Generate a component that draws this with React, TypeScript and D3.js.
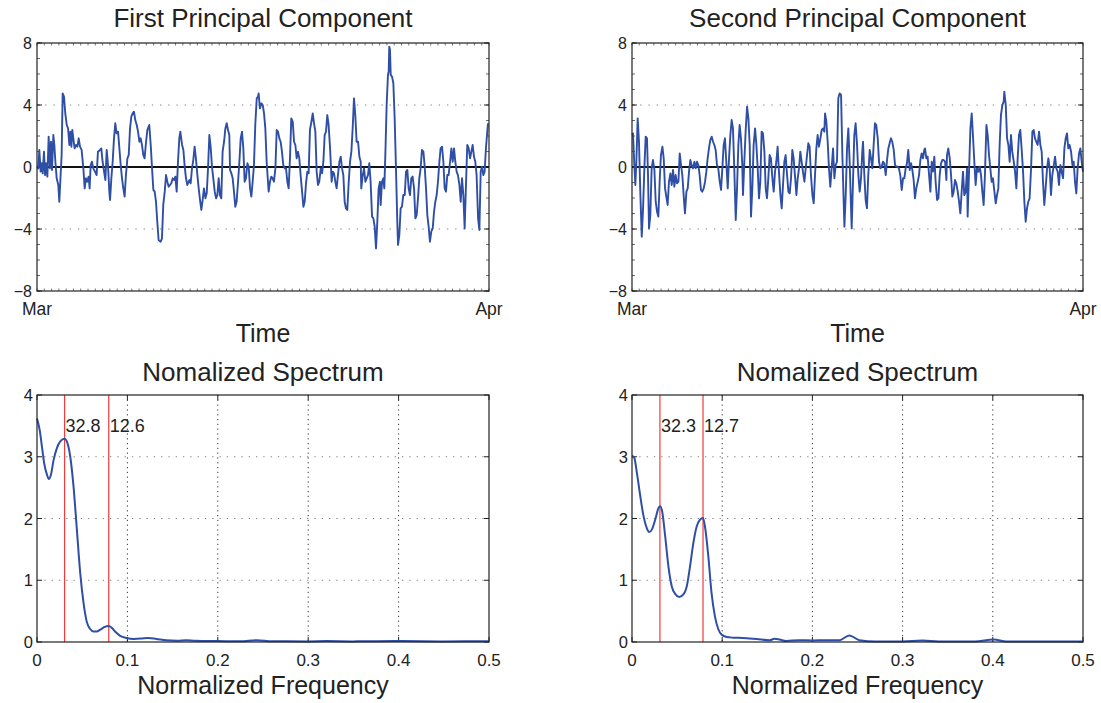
import React from "react";
import * as d3 from "d3";

type P = [number, number];

// First principal component: [day of March (0..31), value]
const pc1: P[] = [
  [0.02,0.02],[0.09,-0.09],[0.16,1.10],[0.25,-0.30],[0.32,0.24],[0.39,-0.41],[0.48,0.99],[0.55,-0.52],[0.62,0.24],[0.71,-0.62],[0.80,1.96],[0.89,-0.09],[0.96,1.63],[1.03,-0.19],[1.12,2.06],[1.19,1.42],[1.26,0.34],[1.35,-0.73],[1.46,-1.16],[1.53,-2.24],[1.62,-0.52],[1.69,0.77],[1.76,4.75],[1.85,4.54],[1.94,3.46],[2.04,2.71],[2.13,2.49],[2.22,1.42],[2.29,2.28],[2.36,1.31],[2.42,2.39],[2.52,1.63],[2.58,1.20],[2.68,1.42],[2.77,1.31],[2.86,1.85],[2.95,1.31],[3.06,1.10],[3.18,-0.09],[3.27,-1.38],[3.36,-0.73],[3.45,-0.95],[3.54,-0.62],[3.61,-1.38],[3.68,0.13],[3.77,0.34],[3.86,-0.09],[3.98,-0.30],[4.09,-0.52],[4.18,0.99],[4.32,1.10],[4.41,1.20],[4.50,0.34],[4.60,-0.30],[4.69,-0.84],[4.78,1.10],[4.87,0.13],[4.96,-1.59],[5.01,-2.13],[5.10,-0.73],[5.19,0.34],[5.28,1.85],[5.37,2.82],[5.46,2.17],[5.56,2.28],[5.65,1.20],[5.74,0.13],[5.83,-0.73],[5.92,-1.38],[6.01,-1.91],[6.10,-0.52],[6.20,0.56],[6.29,0.77],[6.38,2.49],[6.47,3.25],[6.56,3.46],[6.65,3.57],[6.74,3.03],[6.84,2.71],[6.93,2.28],[7.02,1.63],[7.11,1.85],[7.20,1.42],[7.29,0.77],[7.38,0.56],[7.48,1.63],[7.57,2.39],[7.70,2.71],[7.80,1.42],[7.89,-0.09],[7.98,-1.48],[8.07,-1.59],[8.16,-2.24],[8.25,-3.53],[8.34,-4.71],[8.48,-4.82],[8.57,-4.60],[8.66,-2.45],[8.76,-1.59],[8.85,-0.52],[8.94,-0.95],[9.03,-1.27],[9.12,-1.16],[9.21,-1.05],[9.31,-0.73],[9.40,-0.84],[9.49,-0.62],[9.58,-1.59],[9.67,0.34],[9.76,1.85],[9.83,2.28],[9.95,1.42],[10.04,1.10],[10.13,0.02],[10.22,-0.73],[10.31,-1.16],[10.45,-0.84],
  [10.54,-1.05],[10.63,-0.09],[10.72,0.45],[10.81,1.31],[10.91,0.45],[11.00,-0.52],[11.09,-1.38],[11.18,-2.13],[11.27,-2.77],[11.36,-2.13],[11.45,-1.38],[11.55,-2.02],[11.64,-1.70],[11.73,-0.09],[11.82,2.06],[11.91,1.31],[12.00,0.02],[12.09,-0.73],[12.19,-1.59],[12.28,-2.02],[12.37,-1.81],[12.46,-0.73],[12.55,-1.81],[12.64,-2.02],[12.73,0.99],[12.83,1.63],[12.92,2.49],[13.01,2.82],[13.10,2.39],[13.19,2.06],[13.24,-0.19],[13.33,-0.41],[13.42,-0.73],[13.51,-1.59],[13.60,-2.56],[13.69,-2.24],[13.79,-0.95],[13.88,0.34],[13.97,1.85],[14.06,2.28],[14.15,1.20],[14.24,-0.95],[14.33,-0.73],[14.43,0.24],[14.52,0.02],[14.61,-1.38],[14.70,-1.91],[14.79,-0.95],[14.88,0.13],[14.97,2.71],[15.07,4.43],[15.16,4.54],[15.20,4.75],[15.29,3.78],[15.39,4.11],[15.48,4.00],[15.57,3.46],[15.66,2.49],[15.75,0.34],[15.84,-0.95],[15.89,-1.59],[15.98,-0.95],[16.07,-0.62],[16.16,-0.73],[16.25,-0.95],[16.35,-0.09],[16.44,2.39],[16.53,2.28],[16.62,1.85],[16.71,1.63],[16.80,0.99],[16.89,0.13],[16.99,-0.09],[17.08,-0.09],[17.17,-0.95],[17.26,-1.38],[17.35,0.56],[17.44,3.14],[17.54,2.92],[17.63,1.63],[17.72,1.42],[17.81,0.56],[17.90,0.99],[17.99,0.56],[18.08,-0.52],[18.18,-1.59],[18.27,-2.56],[18.36,-2.24],[18.45,-1.05],[18.54,-0.30],[18.63,-0.41],[18.72,2.39],[18.82,2.92],[18.91,3.46],[19.00,2.82],[19.09,2.28],[19.18,-0.30],[19.27,-1.16],[19.36,-0.95],[19.46,-0.09],[19.55,-0.41],[19.64,0.34],[19.73,2.06],[19.82,2.28],[19.91,3.35],[20.00,2.71],[20.10,1.20],
  [20.21,-0.95],[20.28,-0.30],[20.37,-0.41],[20.46,-0.95],[20.55,-1.38],[20.64,-0.52],[20.74,0.34],[20.83,0.67],[20.92,-0.09],[21.01,-0.52],[21.10,-2.24],[21.19,-2.67],[21.28,-2.77],[21.38,-0.95],[21.47,0.34],[21.56,0.99],[21.65,2.49],[21.74,4.43],[21.83,3.35],[21.92,1.63],[22.02,1.63],[22.11,0.67],[22.20,0.34],[22.24,-1.38],[22.34,-0.52],[22.43,-0.09],[22.52,-0.95],[22.61,-0.73],[22.70,-0.52],[22.79,0.24],[22.88,-0.95],[22.98,-3.20],[23.07,-3.31],[23.16,-3.85],[23.25,-5.25],[23.34,-3.53],[23.43,-1.38],[23.52,-0.95],[23.57,-2.45],[23.66,-0.95],[23.75,-0.73],[23.82,-1.38],[23.89,0.77],[23.98,4.00],[24.07,5.94],[24.12,6.15],[24.16,7.76],[24.21,7.55],[24.26,5.94],[24.35,5.83],[24.44,5.40],[24.53,3.14],[24.62,-0.09],[24.71,-3.53],[24.76,-5.03],[24.85,-4.39],[24.94,-2.67],[25.03,-2.56],[25.12,-1.81],[25.22,-1.81],[25.31,-0.30],[25.40,-0.19],[25.49,-1.38],[25.58,-1.81],[25.67,-0.73],[25.76,-0.62],[25.86,-1.38],[25.95,-3.31],[26.04,-3.10],[26.13,-2.02],[26.22,-0.73],[26.31,-0.09],[26.40,1.10],[26.50,0.99],[26.59,0.02],[26.68,-1.38],[26.77,-3.10],[26.86,-3.85],[26.95,-4.82],[27.04,-4.17],[27.14,-3.96],[27.23,-2.88],[27.32,-2.24],[27.41,-1.81],[27.50,-0.95],[27.59,0.24],[27.68,1.20],[27.78,1.31],[27.87,0.34],[27.96,-1.38],[28.05,-1.59],[28.14,-0.52],[28.23,-0.52],[28.33,0.34],[28.42,1.20],[28.51,0.34],[28.60,1.20],[28.69,0.34],[28.78,-0.30],[28.87,-0.52],[28.97,-1.16],[29.06,-2.24],[29.15,-0.73],[29.24,-1.81],[29.33,-3.96],[29.42,-1.16],[29.51,1.42],[29.61,1.20],[29.70,0.56],[29.79,0.99],[29.88,1.42],[29.97,0.67],[30.06,0.34],[30.15,-0.52],[30.25,-3.31],[30.34,-4.06],[30.43,-0.30],[30.52,0.02],[30.61,-0.52],[30.70,-0.30],[30.79,1.20],[30.89,2.39],[30.93,2.82],
];

// Second principal component: [day of March (0..31), value]
const pc2: P[] = [
  [0.02,2.06],[0.07,2.17],[0.16,0.13],[0.23,-1.16],[0.30,0.34],[0.39,3.14],[0.48,1.63],[0.57,-1.59],[0.67,-4.49],[0.76,-2.67],[0.85,-0.09],[0.94,1.96],[1.03,1.85],[1.10,-0.52],[1.17,-3.96],[1.26,-3.10],[1.35,-0.09],[1.44,0.45],[1.54,-0.19],[1.63,-2.24],[1.72,-2.88],[1.81,-3.20],[1.90,-0.95],[1.99,0.77],[2.09,1.31],[2.18,0.56],[2.27,-1.38],[2.36,-1.91],[2.45,-2.45],[2.54,-0.95],[2.64,-0.41],[2.73,-1.16],[2.82,-0.19],[2.91,-1.27],[3.00,-0.52],[3.09,-1.05],[3.19,-0.95],[3.28,0.88],[3.37,0.13],[3.46,-0.52],[3.55,-1.81],[3.64,-2.99],[3.74,-1.59],[3.83,-1.38],[3.92,-0.30],[4.01,0.45],[4.10,0.13],[4.19,-0.09],[4.29,0.34],[4.38,-0.09],[4.47,0.34],[4.56,0.13],[4.65,-0.52],[4.74,-1.48],[4.83,-1.59],[4.93,-1.38],[5.02,-0.95],[5.11,-0.30],[5.20,0.56],[5.29,1.20],[5.38,1.74],[5.48,1.96],[5.57,1.63],[5.66,1.42],[5.75,1.10],[5.84,0.13],[5.93,-0.09],[6.03,-0.95],[6.12,-1.48],[6.21,-0.09],[6.30,1.42],[6.39,1.85],[6.48,0.34],[6.58,-1.38],[6.67,0.56],[6.76,2.06],[6.85,3.03],[6.94,2.49],[7.03,-0.09],[7.13,-3.42],[7.22,-1.38],[7.31,1.42],[7.40,2.71],[7.49,1.85],[7.58,0.13],[7.63,-1.81],[7.72,0.34],[7.81,2.28],[7.91,3.89],[8.00,3.14],[8.09,1.42],[8.18,-3.20],[8.27,-1.38],[8.36,1.42],[8.46,2.49],[8.55,1.42],[8.64,-0.09],[8.73,-2.02],[8.82,-0.95],[8.91,2.28],[9.00,2.17],[9.10,0.99],[9.19,-1.38],[9.28,-2.02],[9.37,-0.73],[9.46,0.77],[9.55,0.56],[9.65,-0.73],[9.74,-1.59],
  [9.83,-0.30],[9.92,0.34],[10.01,1.31],[10.10,-0.30],[10.20,-1.81],[10.29,-2.67],[10.38,-1.16],[10.47,0.34],[10.56,0.77],[10.65,-0.41],[10.75,-1.59],[10.84,-1.70],[10.93,-0.73],[11.02,1.10],[11.11,0.56],[11.20,-0.52],[11.30,-1.81],[11.39,-0.73],[11.48,-0.09],[11.57,0.99],[11.66,0.34],[11.75,-0.30],[11.85,-0.95],[11.94,-0.09],[12.03,0.77],[12.12,1.53],[12.21,1.31],[12.30,-0.52],[12.40,-1.81],[12.49,-2.34],[12.58,-0.52],[12.67,1.20],[12.76,2.06],[12.85,1.31],[12.95,1.85],[13.04,2.39],[13.13,2.49],[13.22,2.28],[13.27,3.46],[13.36,2.92],[13.45,1.63],[13.54,-0.09],[13.63,-1.27],[13.72,-0.09],[13.82,1.20],[13.91,-0.73],[14.00,0.13],[14.09,0.34],[14.18,4.43],[14.27,4.75],[14.37,4.65],[14.46,0.77],[14.55,-2.24],[14.60,-3.85],[14.69,-1.81],[14.78,1.20],[14.87,2.49],[14.96,0.34],[15.05,-2.45],[15.10,-3.96],[15.19,-0.95],[15.28,2.06],[15.37,2.82],[15.47,1.42],[15.56,-0.52],[15.65,-1.59],[15.74,-0.73],[15.83,0.99],[15.88,1.63],[15.97,-0.52],[16.06,-2.13],[16.15,-2.67],[16.24,-0.52],[16.34,1.10],[16.43,0.56],[16.52,-0.09],[16.61,1.42],[16.70,2.82],[16.79,2.71],[16.89,1.85],[16.98,0.34],[17.07,-0.09],[17.16,0.02],[17.25,0.34],[17.34,0.24],[17.44,-0.52],[17.53,0.45],[17.62,1.20],[17.71,1.53],[17.80,1.85],[17.89,1.63],[17.99,1.10],[18.08,0.13],[18.17,0.02],[18.26,0.02],[18.35,-0.09],[18.44,-0.52],[18.54,-1.48],[18.63,-0.73],[18.72,-0.73],[18.81,-0.09],[18.90,0.24],[18.99,1.10],[19.09,-0.19],[19.18,0.24],[19.27,-0.19],[19.36,-0.84],[19.45,-2.02],[19.54,-1.38],[19.64,-0.95],[19.73,-0.52],[19.82,0.45],[19.91,0.88],[20.00,0.56],[20.09,1.10],
  [20.14,1.20],[20.23,0.56],[20.32,0.67],[20.42,-0.52],[20.51,-1.59],[20.60,0.34],[20.69,-0.30],[20.78,0.67],[20.87,-0.95],[20.97,-2.13],[21.06,-2.02],[21.15,-0.52],[21.24,0.24],[21.33,0.45],[21.42,0.45],[21.52,0.34],[21.61,-0.84],[21.65,0.77],[21.74,1.20],[21.84,0.56],[21.93,-0.52],[22.02,-1.91],[22.11,-1.59],[22.20,-0.84],[22.29,-1.05],[22.39,-1.59],[22.48,-2.24],[22.57,-2.99],[22.66,-1.59],[22.75,-0.30],[22.84,-1.81],[22.94,-1.59],[23.03,-0.09],[23.07,-3.20],[23.16,-0.52],[23.26,2.49],[23.35,3.46],[23.44,1.96],[23.53,0.34],[23.62,-1.16],[23.71,-0.09],[23.81,-0.30],[23.90,0.02],[23.99,-0.52],[24.08,-1.59],[24.17,-2.45],[24.26,-0.52],[24.36,2.71],[24.45,2.06],[24.54,0.77],[24.63,-0.09],[24.72,-0.95],[24.81,-0.73],[24.91,-1.59],[25.00,-2.34],[25.09,-1.81],[25.18,-1.38],[25.27,1.42],[25.36,3.35],[25.46,4.00],[25.55,4.22],[25.59,4.86],[25.69,4.00],[25.78,1.85],[25.87,1.42],[25.96,0.34],[26.05,2.06],[26.14,0.99],[26.24,0.34],[26.33,-0.30],[26.42,-1.38],[26.51,0.56],[26.60,2.06],[26.69,2.39],[26.78,1.20],[26.88,-0.30],[26.97,-2.24],[27.06,-3.53],[27.15,-2.67],[27.24,-2.24],[27.33,-2.02],[27.43,-0.09],[27.52,2.28],[27.61,2.39],[27.70,1.85],[27.79,1.63],[27.88,1.42],[27.98,2.28],[28.07,1.42],[28.16,0.99],[28.25,-0.95],[28.34,-2.45],[28.43,-1.38],[28.53,-0.09],[28.62,0.56],[28.71,-0.09],[28.80,-1.81],[28.89,-0.52],[28.98,0.02],[29.08,0.67],[29.17,-0.09],[29.26,-0.30],[29.35,-1.16],[29.44,0.13],[29.53,-0.30],[29.63,-0.73],[29.72,1.20],[29.81,1.85],[29.90,2.17],[29.99,1.20],[30.08,1.42],[30.18,0.99],[30.27,0.13],[30.36,0.34],[30.45,-0.95],[30.54,-1.70],[30.63,-0.09],[30.73,0.88],[30.82,1.20],[30.91,0.34],[31.00,-0.30],
];

// Normalized spectra: [normalized frequency, power]
const spec1: P[] = [
  [0,3.62],[0.003,3.43],[0.0055,3.16],[0.008,2.89],[0.011,2.71],[0.0132,2.64],[0.0154,2.71],[0.0184,2.95],[0.022,3.14],[0.0257,3.25],[0.0305,3.29],[0.033,3.25],[0.0368,3.00],[0.0404,2.52],[0.0441,1.82],[0.0478,1.12],[0.0515,0.63],[0.055,0.33],[0.0588,0.21],[0.0625,0.17],[0.066,0.17],[0.07,0.20],[0.0743,0.24],[0.0794,0.26],[0.0827,0.23],[0.0864,0.17],[0.092,0.10],[0.099,0.065],[0.107,0.05],[0.115,0.055],[0.123,0.065],[0.132,0.05],[0.143,0.027],[0.155,0.02],[0.165,0.03],[0.175,0.02],[0.2,0.015],[0.225,0.012],[0.243,0.03],[0.26,0.012],[0.3,0.01],[0.32,0.015],[0.35,0.01],[0.4,0.015],[0.45,0.01],[0.5,0.012],
];
const spec2: P[] = [
  [0,3.02],[0.0026,2.98],[0.0055,2.73],[0.0092,2.36],[0.0129,2.03],[0.0165,1.84],[0.0191,1.78],[0.022,1.82],[0.0257,1.98],[0.0294,2.17],[0.0313,2.20],[0.0335,2.11],[0.0368,1.71],[0.0404,1.22],[0.0441,0.90],[0.0478,0.78],[0.0526,0.73],[0.057,0.77],[0.0607,0.90],[0.0643,1.22],[0.068,1.60],[0.0717,1.87],[0.0754,1.98],[0.0787,2.01],[0.0809,1.87],[0.0846,1.39],[0.0882,0.79],[0.0919,0.42],[0.0956,0.21],[0.0993,0.12],[0.105,0.08],[0.112,0.07],[0.123,0.065],[0.138,0.05],[0.1526,0.027],[0.158,0.054],[0.1636,0.04],[0.171,0.016],[0.185,0.03],[0.2,0.025],[0.215,0.03],[0.23,0.03],[0.241,0.107],[0.252,0.03],[0.27,0.01],[0.3,0.01],[0.322,0.025],[0.34,0.01],[0.38,0.01],[0.401,0.04],[0.415,0.01],[0.45,0.01],[0.5,0.01],
];

const spec1Periods = [32.8, 12.6];
const spec2Periods = [32.3, 12.7];

const timeTickDays = [0, 31];
const timeTickLabels = ["Mar", "Apr"];
const pcYTicks = [-8, -4, 0, 4, 8];
const pcGrid = [-4, 4];
const specXTicks = [0, 0.1, 0.2, 0.3, 0.4, 0.5];
const specYTicks = [0, 1, 2, 3, 4];

const FONT = '"Liberation Sans", Arial, Helvetica, sans-serif';
const TEXT = "#222";
const BLUE = "#2f4fa6";
const RED = "#f23a3a";

const fmt = d3.format("");

function TimePanel({ left, right, top, bottom, data, title }: { left: number; right: number; top: number; bottom: number; data: P[]; title: string }) {
  const x = d3.scaleLinear().domain([0, 31]).range([left, right]);
  const y = d3.scaleLinear().domain([-8, 8]).range([bottom, top]);
  const line = d3.line<P>().x((d) => x(d[0])).y((d) => y(d[1]));
  const minorY = d3.range(-8, 8.001, 1);
  const minorX = d3.range(0, 31.001, 0.5);
  const cx = (left + right) / 2;
  return (
    <g>
      <text x={cx} y={27} textAnchor="middle" fontSize={26} fill={TEXT}>{title}</text>
      {pcGrid.map((v) => (
        <line key={"g" + v} x1={left} x2={right} y1={y(v)} y2={y(v)} stroke="#808080" strokeWidth={1} strokeDasharray="1.3,6.9" />
      ))}
      {minorX.map((d, i) => (
        <g key={"mx" + i}>
          <line x1={x(d)} x2={x(d)} y1={top} y2={top + 2.5} stroke="#555" strokeWidth={0.8} />
          <line x1={x(d)} x2={x(d)} y1={bottom} y2={bottom - 2.5} stroke="#555" strokeWidth={0.8} />
        </g>
      ))}
      {minorY.map((v, i) => (
        <g key={"my" + i}>
          <line x1={left} x2={left + 3} y1={y(v)} y2={y(v)} stroke="#444" strokeWidth={0.8} />
          <line x1={right} x2={right - 3} y1={y(v)} y2={y(v)} stroke="#444" strokeWidth={0.8} />
        </g>
      ))}
      {pcYTicks.map((v) => (
        <g key={"t" + v}>
          <line x1={left} x2={left + 5} y1={y(v)} y2={y(v)} stroke="#222" strokeWidth={1} />
          <line x1={right} x2={right - 5} y1={y(v)} y2={y(v)} stroke="#222" strokeWidth={1} />
          <text x={left - 5} y={y(v) + 6} textAnchor="end" fontSize={16} fill={TEXT}>{fmt(v)}</text>
        </g>
      ))}
      {timeTickDays.map((d, i) => (
        <text key={"xl" + i} x={x(d)} y={315} textAnchor="middle" fontSize={17.5} fill={TEXT}>{timeTickLabels[i]}</text>
      ))}
      <line x1={left} x2={right} y1={y(0)} y2={y(0)} stroke="#111" strokeWidth={2} />
      <path d={line(data) || ""} fill="none" stroke={BLUE} strokeWidth={1.9} strokeLinejoin="round" />
      <rect x={left} y={top} width={right - left} height={bottom - top} fill="none" stroke="#222" strokeWidth={1.2} />
      <text x={cx} y={342} textAnchor="middle" fontSize={25} fill={TEXT}>Time</text>
    </g>
  );
}

function SpecPanel({ left, right, top, bottom, data, periods }: { left: number; right: number; top: number; bottom: number; data: P[]; periods: number[] }) {
  const x = d3.scaleLinear().domain([0, 0.5]).range([left, right]);
  const y = d3.scaleLinear().domain([0, 4]).range([bottom, top]);
  const line = d3.line<P>().x((d) => x(d[0])).y((d) => y(d[1])).curve(d3.curveMonotoneX);
  const cx = (left + right) / 2;
  return (
    <g>
      <text x={cx} y={381} textAnchor="middle" fontSize={26} fill={TEXT}>Nomalized Spectrum</text>
      {specYTicks.filter((v) => v > 0 && v < 4).map((v) => (
        <line key={"gy" + v} x1={left} x2={right} y1={y(v)} y2={y(v)} stroke="#808080" strokeWidth={1} strokeDasharray="1.3,6" />
      ))}
      {specXTicks.filter((v) => v > 0 && v < 0.5).map((v) => (
        <line key={"gx" + v} x1={x(v)} x2={x(v)} y1={top} y2={bottom} stroke="#333" strokeWidth={1} strokeDasharray="1.2,3.6" />
      ))}
      {specYTicks.map((v) => (
        <g key={"ty" + v}>
          <line x1={left} x2={left + 5} y1={y(v)} y2={y(v)} stroke="#222" strokeWidth={1} />
          <line x1={right} x2={right - 5} y1={y(v)} y2={y(v)} stroke="#222" strokeWidth={1} />
          <text x={left - 4} y={y(v) + 6} textAnchor="end" fontSize={16.5} fill={TEXT}>{fmt(v)}</text>
        </g>
      ))}
      {specXTicks.map((v) => (
        <g key={"tx" + v}>
          <line x1={x(v)} x2={x(v)} y1={bottom} y2={bottom - 5} stroke="#222" strokeWidth={1} />
          <line x1={x(v)} x2={x(v)} y1={top} y2={top + 5} stroke="#222" strokeWidth={1} />
          <text x={x(v)} y={665.5} textAnchor="middle" fontSize={17} fill={TEXT}>{fmt(v)}</text>
        </g>
      ))}
      {periods.map((p) => (
        <g key={"p" + p}>
          <line x1={x(1 / p)} x2={x(1 / p)} y1={top} y2={bottom} stroke={RED} strokeWidth={1.2} />
          <text x={x(1 / p) + 1} y={y(3.5) + 6.5} fontSize={18} fill={TEXT}>{p.toFixed(1)}</text>
        </g>
      ))}
      <path d={line(data) || ""} fill="none" stroke={BLUE} strokeWidth={2} strokeLinejoin="round" />
      <rect x={left} y={top} width={right - left} height={bottom - top} fill="none" stroke="#222" strokeWidth={1.2} />
      <text x={cx} y={694} textAnchor="middle" fontSize={25} fill={TEXT}>Normalized Frequency</text>
    </g>
  );
}

export default function App() {
  return (
    <svg width={1101} height={703} style={{ position: "absolute", left: 0, top: 0, background: "#fff" }} fontFamily={FONT}>
      <rect x={0} y={0} width={1101} height={703} fill="#fff" />
      <TimePanel left={37} right={489} top={43} bottom={291} data={pc1} title="First Principal Component" />
      <TimePanel left={632} right={1083} top={43} bottom={291} data={pc2} title="Second Principal Component" />
      <SpecPanel left={37} right={489} top={395} bottom={642} data={spec1} periods={spec1Periods} />
      <SpecPanel left={632} right={1083} top={395} bottom={642} data={spec2} periods={spec2Periods} />
    </svg>
  );
}
